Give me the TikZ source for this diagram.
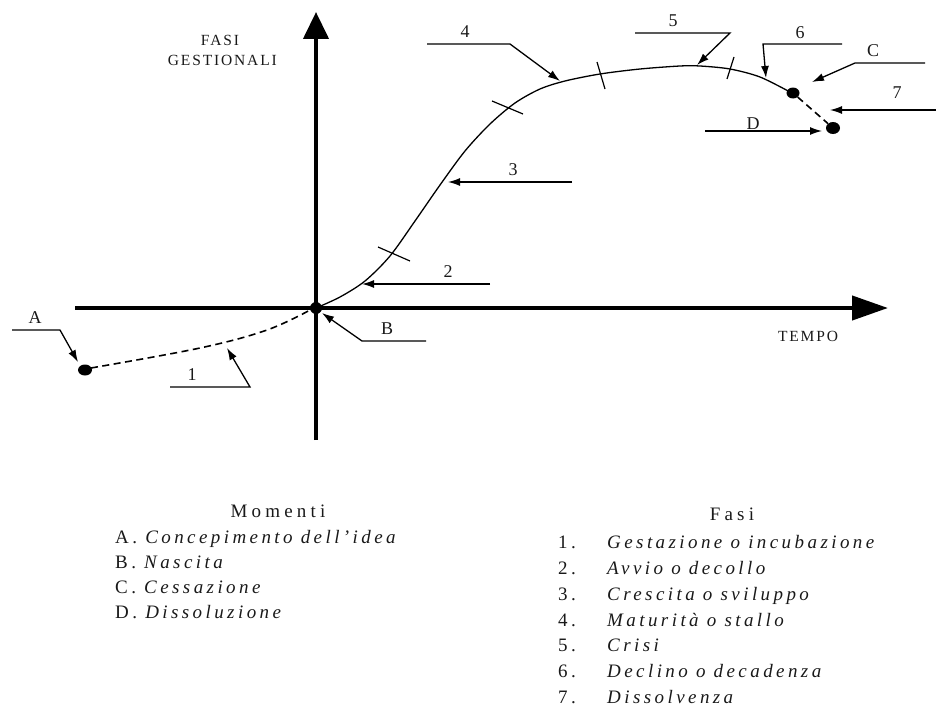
\documentclass[tikz,border=0pt]{standalone}
\usepackage{fontspec}
\setmainfont{Liberation Serif}
\usetikzlibrary{arrows.meta,shapes.geometric}
\tikzset{
  axisline/.style={line width=4.2pt},
  curveline/.style={line width=1.3pt, line cap=round},
  dashline/.style={line width=1.6pt, dash pattern=on 7pt off 4.5pt},
  tickline/.style={line width=1.2pt},
  lead/.style={line width=1.3pt, -{Latex[length=12pt,width=8pt]}},
  dotnode/.style={ellipse, fill=black, inner sep=0pt, minimum width=13pt, minimum height=11pt},
  lbl/.style={inner sep=0pt, font=\fontsize{18}{20}\selectfont, text=black!90},
  axlbl/.style={inner sep=0pt, font=\fontsize{15.5}{18}\selectfont\addfontfeatures{LetterSpace=12}, text=black!90},
  leg/.style={inner sep=0pt, anchor=base west, font=\fontsize{19}{22}\selectfont\addfontfeatures{LetterSpace=18}, text=black!90},
  legtitle/.style={inner sep=0pt, anchor=base, font=\fontsize{19}{22}\selectfont\addfontfeatures{LetterSpace=22}, text=black!90}
}
\begin{document}
\begin{tikzpicture}[x=1pt,y=-1pt]
\useasboundingbox (0,0) rectangle (936,709);
% axes
\coordinate (ybot) at (316,440);
\coordinate (ytop) at (316,12);
\coordinate (xleft) at (75,308);
\coordinate (xright) at (888,308);
\draw[axisline, -{Triangle[length=27pt,width=25pt]}] (ybot) -- (ytop);
\draw[axisline, -{Triangle[length=36pt,width=24pt]}] (xleft) -- (xright);
\node[axlbl] (fasi) at (220,40) {FASI};
\node[axlbl, anchor=east] (gest) at (277,60) {GESTIONALI};
\node[axlbl] (tempo) at (808,336) {TEMPO};
% dots
\node[dotnode, minimum width=12pt, minimum height=12pt] (O) at (316,308) {};
\node[dotnode, minimum width=14pt, minimum height=11pt] (A) at (85,370) {};
\node[dotnode] (C) at (793,93) {};
\node[dotnode, minimum width=14pt, minimum height=12pt] (D) at (833,128) {};
% dashed parts
\draw[dashline] plot[smooth, tension=0.6] coordinates {(91,368) (200,348) (267,330) (312,309)};
\draw[dashline] (C) -- (D);
% main curve
\draw[curveline] plot[smooth, tension=0.5] coordinates {(316,308) (340,297) (365,281) (390,256) (415,221) (440,185) (465,151) (490,124) (515,103) (540,89) (565,81) (600,74) (640,69) (680,66) (700,66) (730,69) (760,77) (790,92)};
% ticks
\coordinate (t1a) at (378,247); \coordinate (t1b) at (410,261);
\coordinate (t2a) at (492,101); \coordinate (t2b) at (523,114);
\coordinate (t3a) at (597,62);  \coordinate (t3b) at (605,89);
\coordinate (t4a) at (727,79);  \coordinate (t4b) at (734,57);
\draw[tickline] (t1a) -- (t1b);
\draw[tickline] (t2a) -- (t2b);
\draw[tickline] (t3a) -- (t3b);
\draw[tickline] (t4a) -- (t4b);
% label A
\coordinate (a0) at (12,330); \coordinate (a1) at (60,330); \coordinate (a2) at (78,362);
\draw[lead] (a0) -- (a1) -- (a2);
\node[lbl] (labA) at (35,318) {A};
% label 1
\coordinate (p10) at (170,387); \coordinate (p11) at (250,387); \coordinate (p12) at (227,348);
\draw[lead] (p10) -- (p11) -- (p12);
\node[lbl] (lab1) at (192,375) {1};
% label B
\coordinate (b0) at (426,341); \coordinate (b1) at (362,341); \coordinate (b2) at (322,313);
\draw[lead] (b0) -- (b1) -- (b2);
\node[lbl] (labB) at (387,329) {B};
% label 2
\coordinate (p20) at (490,284); \coordinate (p21) at (362,284);
\draw[lead] (p20) -- (p21);
\node[lbl] (lab2) at (448,272) {2};
% label 3
\coordinate (p30) at (572,182); \coordinate (p31) at (448,182);
\draw[lead] (p30) -- (p31);
\node[lbl] (lab3) at (513,170) {3};
% label 4
\coordinate (p40) at (427,44); \coordinate (p41) at (510,44); \coordinate (p42) at (560,81);
\draw[lead] (p40) -- (p41) -- (p42);
\node[lbl] (lab4) at (465,32) {4};
% label 5
\coordinate (p50) at (635,33); \coordinate (p51) at (730,33); \coordinate (p52) at (697,65);
\draw[lead] (p50) -- (p51) -- (p52);
\node[lbl] (lab5) at (673,21) {5};
% label 6
\coordinate (p60) at (842,44); \coordinate (p61) at (763,44); \coordinate (p62) at (766,78);
\draw[lead] (p60) -- (p61) -- (p62);
\node[lbl] (lab6) at (800,33) {6};
% label C
\coordinate (c0) at (925,63); \coordinate (c1) at (855,63); \coordinate (c2) at (812,82);
\draw[lead] (c0) -- (c1) -- (c2);
\node[lbl] (labC) at (873,51) {C};
% label 7
\coordinate (p70) at (936,110); \coordinate (p71) at (830,110);
\draw[lead] (p70) -- (p71);
\node[lbl] (lab7) at (897,93) {7};
% label D
\coordinate (d0) at (705,131); \coordinate (d1) at (822,131);
\draw[lead] (d0) -- (d1);
\node[lbl] (labD) at (753,124) {D};
% legend: Momenti
\node[legtitle] (mom) at (278,517) {Momenti};
\node[leg] (mA) at (115,543) {A.\ \textit{Concepimento dell’idea}};
\node[leg] (mB) at (115,568) {B.\ \textit{Nascita}};
\node[leg] (mC) at (115,593) {C.\ \textit{Cessazione}};
\node[leg] (mD) at (115,618) {D.\ \textit{Dissoluzione}};
% legend: Fasi
\node[legtitle] (fas) at (732,520) {Fasi};
\node[leg] (n1) at (558,548) {1.}; \node[leg] (f1) at (607,548) {\textit{Gestazione o incubazione}};
\node[leg] (n2) at (558,574) {2.}; \node[leg] (f2) at (607,574) {\textit{Avvio o decollo}};
\node[leg] (n3) at (558,600) {3.}; \node[leg] (f3) at (607,600) {\textit{Crescita o sviluppo}};
\node[leg] (n4) at (558,626) {4.}; \node[leg] (f4) at (607,626) {\textit{Maturità o stallo}};
\node[leg] (n5) at (558,651) {5.}; \node[leg] (f5) at (607,651) {\textit{Crisi}};
\node[leg] (n6) at (558,677) {6.}; \node[leg] (f6) at (607,677) {\textit{Declino o decadenza}};
\node[leg] (n7) at (558,703) {7.}; \node[leg] (f7) at (607,703) {\textit{Dissolvenza}};
\end{tikzpicture}
\end{document}
